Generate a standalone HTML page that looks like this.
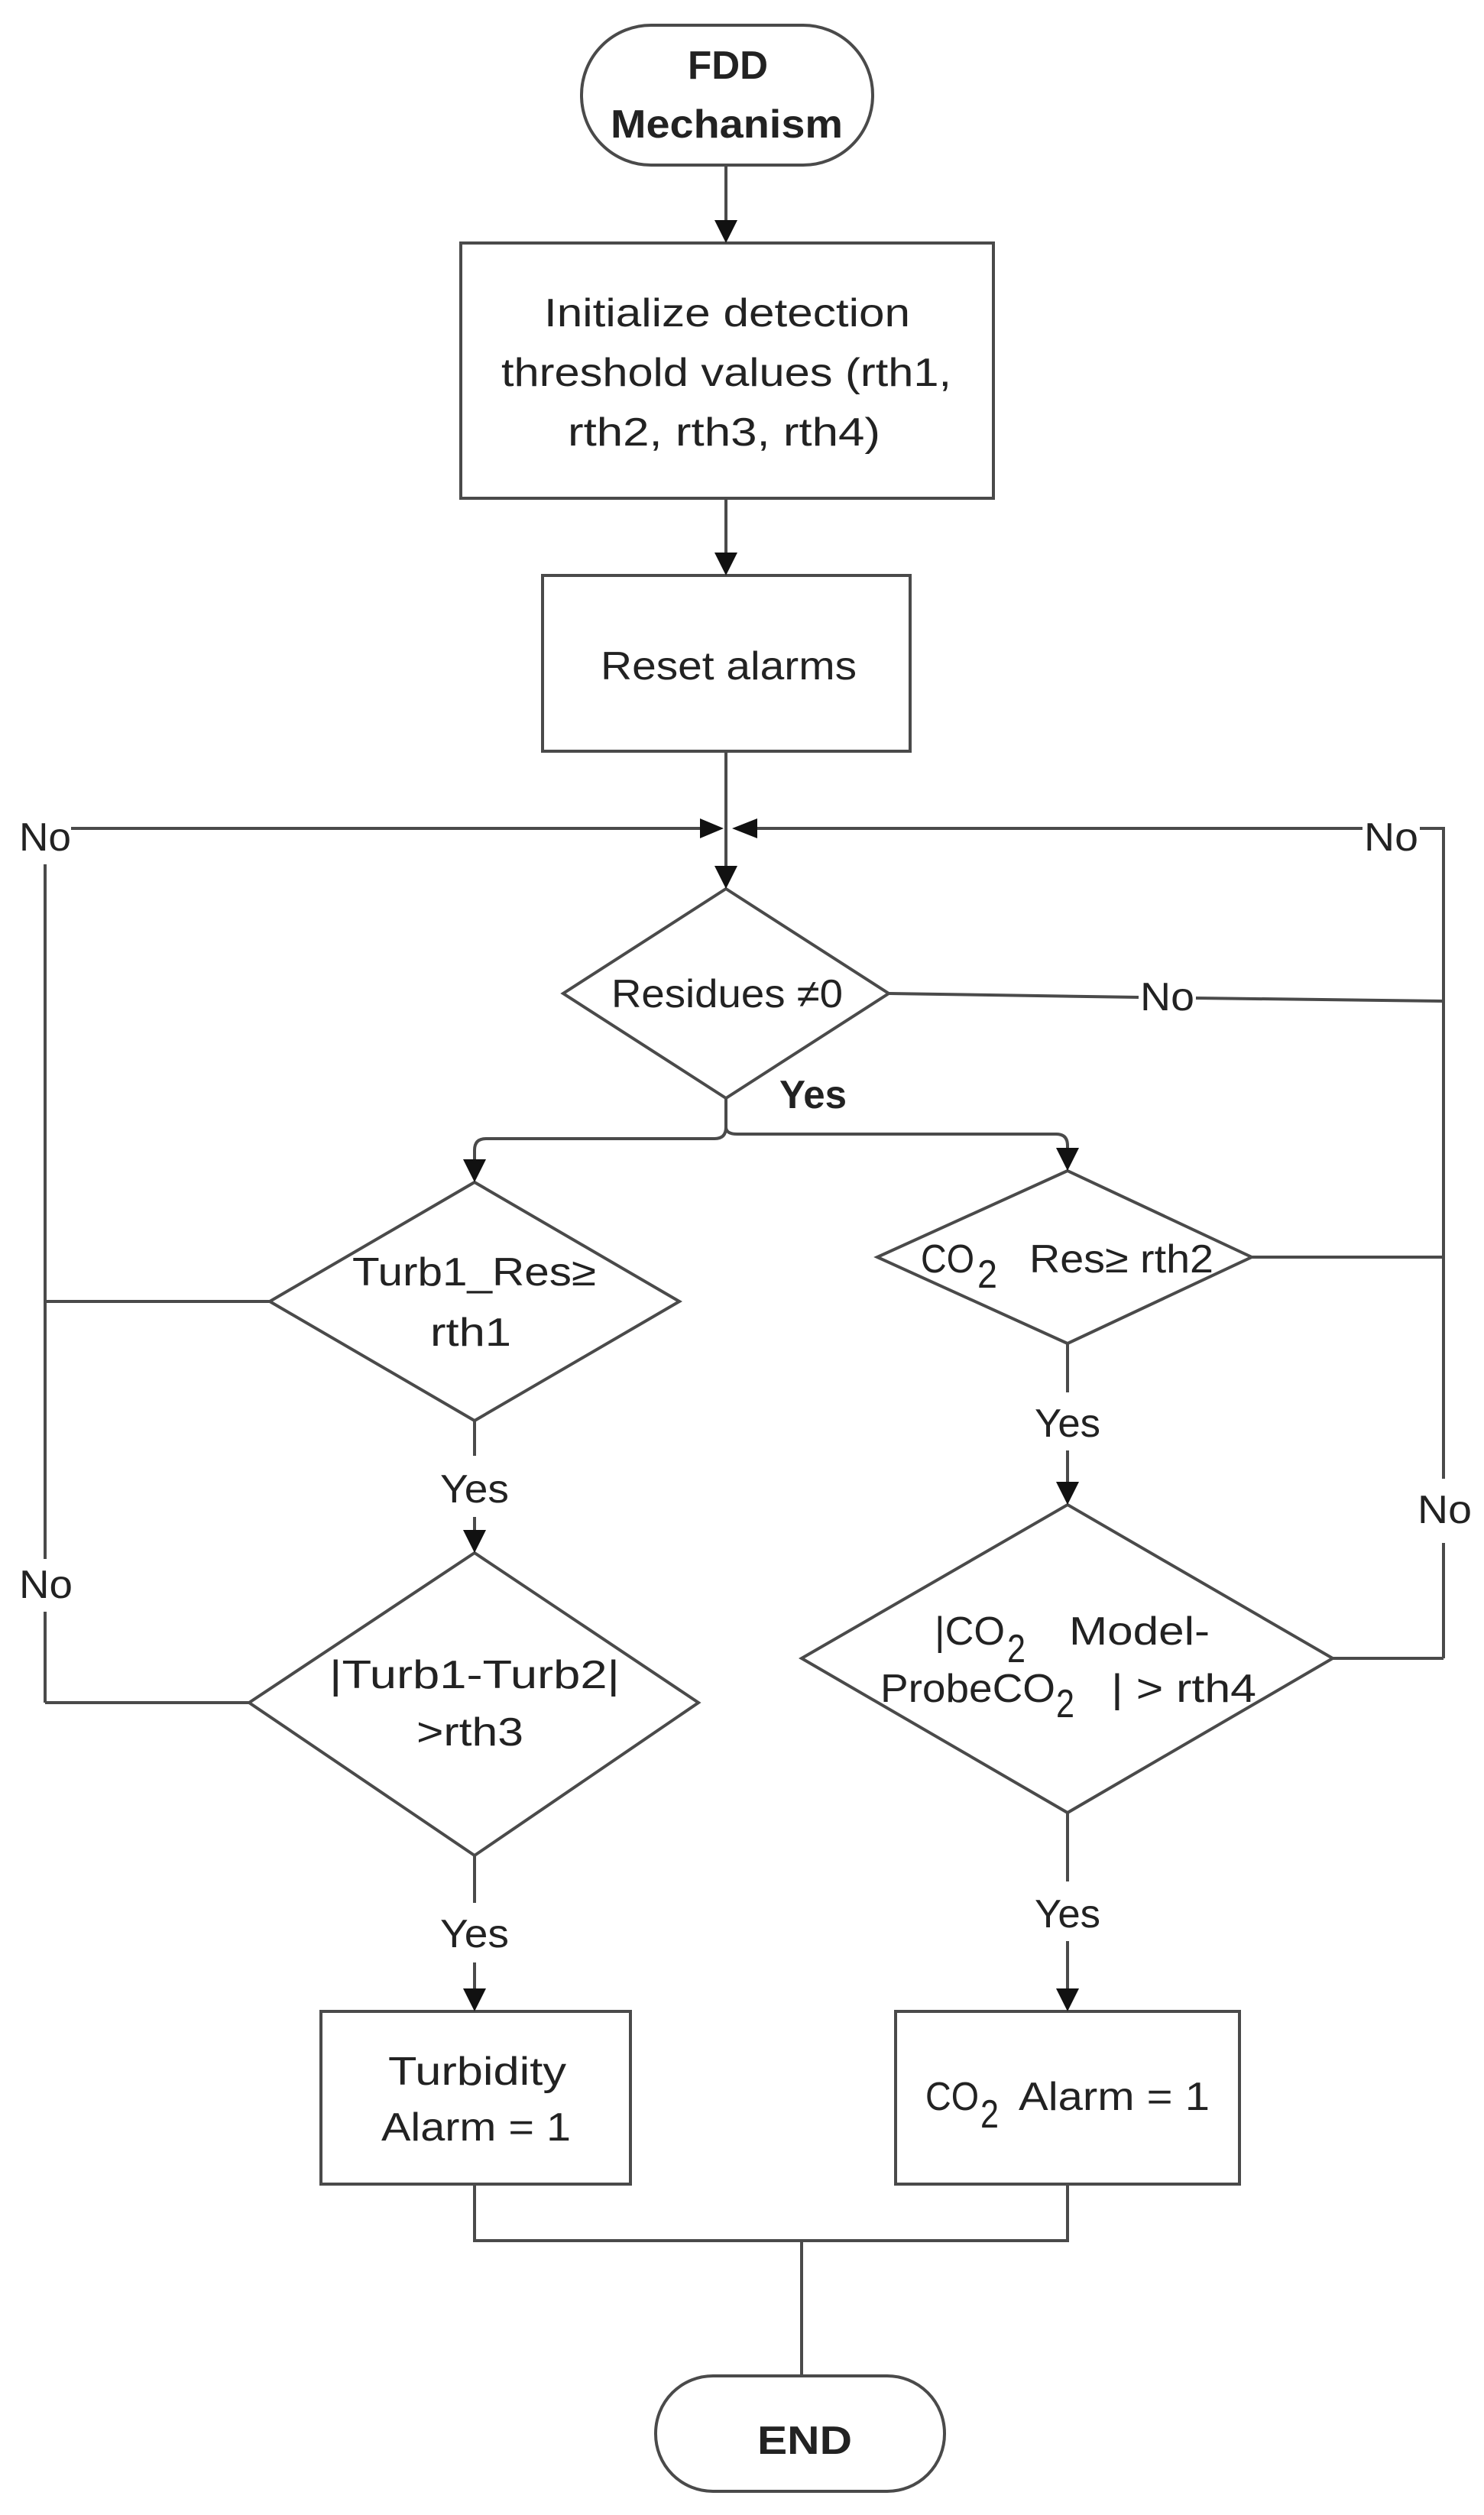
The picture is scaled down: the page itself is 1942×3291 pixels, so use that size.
<!DOCTYPE html>
<html><head><meta charset="utf-8"><style>
html,body{margin:0;padding:0;background:#fff;}
svg{display:block;}
text{font-family:"Liberation Sans",sans-serif;fill:#222;}
</style></head><body>
<svg width="1942" height="3291" viewBox="0 0 1942 3291" xmlns="http://www.w3.org/2000/svg">
<defs>
<marker id="a" markerWidth="10" markerHeight="10" refX="9" refY="5" orient="auto" markerUnits="userSpaceOnUse" viewBox="0 0 10 10">
</marker>
</defs>
<g fill="none" stroke="#4a4a4a" stroke-width="4">
<!-- start terminal -->
<rect x="761" y="33" width="381" height="183" rx="91" ry="91"/>
<!-- init box -->
<rect x="603" y="318" width="697" height="334"/>
<!-- reset -->
<rect x="710" y="753" width="481" height="230"/>
<!-- residues diamond -->
<polygon points="950,1163 1163,1300 950,1437 737,1300"/>
<!-- turb1 -->
<polygon points="621,1547 889,1703 621,1859 353,1703"/>
<!-- co2 res -->
<polygon points="1397,1532 1638,1645 1397,1758 1148,1645"/>
<!-- turb2 -->
<polygon points="621,2032 914,2228 621,2428 326,2228"/>
<!-- diamond4 -->
<polygon points="1397,1969 1744,2170 1397,2372 1049,2170"/>
<!-- alarms -->
<rect x="420" y="2632" width="405" height="226"/>
<rect x="1172" y="2632" width="450" height="226"/>
<!-- end -->
<rect x="858" y="3109" width="378" height="151" rx="75" ry="75"/>

<!-- connectors -->
<line x1="950" y1="216" x2="950" y2="290"/>
<line x1="950" y1="652" x2="950" y2="725"/>
<line x1="950" y1="983" x2="950" y2="1135"/>
<line x1="93" y1="1084" x2="920" y2="1084"/>
<line x1="985" y1="1084" x2="1783" y2="1084"/>
<polyline points="1858,1084 1889,1084 1889,1935"/>
<line x1="1889" y1="2019" x2="1889" y2="2170"/>
<line x1="59" y1="1131" x2="59" y2="2040"/>
<line x1="59" y1="2109" x2="59" y2="2228"/>
<line x1="353" y1="1703" x2="59" y2="1703"/>
<line x1="326" y1="2228" x2="59" y2="2228"/>
<line x1="1163" y1="1300" x2="1490" y2="1305"/>
<line x1="1565" y1="1306" x2="1889" y2="1310"/>
<line x1="1638" y1="1645" x2="1889" y2="1645"/>
<line x1="1744" y1="2170" x2="1889" y2="2170"/>
<!-- branch -->
<path d="M950,1437 L950,1475 Q950,1490 935,1490 L636,1490 Q621,1490 621,1505 L621,1520"/>
<path d="M950,1475 Q950,1484 965,1484 L1382,1484 Q1397,1484 1397,1499 L1397,1504"/>
<line x1="621" y1="1859" x2="621" y2="1905"/>
<line x1="621" y1="1985" x2="621" y2="2005"/>
<line x1="621" y1="2428" x2="621" y2="2490"/>
<line x1="621" y1="2568" x2="621" y2="2605"/>
<line x1="1397" y1="1758" x2="1397" y2="1822"/>
<line x1="1397" y1="1898" x2="1397" y2="1942"/>
<line x1="1397" y1="2372" x2="1397" y2="2462"/>
<line x1="1397" y1="2540" x2="1397" y2="2605"/>
<polyline points="621,2858 621,2932 1397,2932 1397,2858"/>
<line x1="1049" y1="2932" x2="1049" y2="3109"/>
</g>
<g fill="#111">
<polygon points="935,288 965,288 950,318"/>
<polygon points="935,723 965,723 950,753"/>
<polygon points="935,1133 965,1133 950,1163"/>
<polygon points="916,1071 916,1097 947,1084"/>
<polygon points="991,1071 991,1097 958,1084"/>
<polygon points="606,1517 636,1517 621,1547"/>
<polygon points="1382,1502 1412,1502 1397,1532"/>
<polygon points="606,2002 636,2002 621,2032"/>
<polygon points="606,2602 636,2602 621,2632"/>
<polygon points="1382,1939 1412,1939 1397,1969"/>
<polygon points="1382,2602 1412,2602 1397,2632"/>
</g>
<g font-size="52">
<text x="900" y="103" font-weight="bold" textLength="105" lengthAdjust="spacingAndGlyphs">FDD</text>
<text x="799" y="180" font-weight="bold" textLength="304" lengthAdjust="spacingAndGlyphs">Mechanism</text>
<text x="712" y="427" textLength="479" lengthAdjust="spacingAndGlyphs">Initialize detection</text>
<text x="656" y="505" textLength="589" lengthAdjust="spacingAndGlyphs">threshold values (rth1,</text>
<text x="743" y="583" textLength="409" lengthAdjust="spacingAndGlyphs">rth2, rth3, rth4)</text>
<text x="786" y="889" textLength="335" lengthAdjust="spacingAndGlyphs">Reset alarms</text>
<text x="800" y="1318" textLength="303" lengthAdjust="spacingAndGlyphs">Residues ≠0</text>
<text x="25" y="1113" textLength="68" lengthAdjust="spacingAndGlyphs">No</text>
<text x="1785" y="1113" textLength="71" lengthAdjust="spacingAndGlyphs">No</text>
<text x="1492" y="1322" textLength="71" lengthAdjust="spacingAndGlyphs">No</text>
<text x="1020" y="1450" font-weight="bold" textLength="88" lengthAdjust="spacingAndGlyphs">Yes</text>
<text x="461" y="1682" textLength="319" lengthAdjust="spacingAndGlyphs">Turb1_Res≥</text>
<text x="563" y="1761" textLength="106" lengthAdjust="spacingAndGlyphs">rth1</text>
<text x="1205" y="1665" textLength="70" lengthAdjust="spacingAndGlyphs">CO</text>
<text x="1279" y="1685" textLength="26" lengthAdjust="spacingAndGlyphs">2</text>
<text x="1347" y="1665" textLength="241" lengthAdjust="spacingAndGlyphs">Res≥ rth2</text>
<text x="576" y="1966" textLength="90" lengthAdjust="spacingAndGlyphs">Yes</text>
<text x="1354" y="1880" textLength="86" lengthAdjust="spacingAndGlyphs">Yes</text>
<text x="1855" y="1993" textLength="71" lengthAdjust="spacingAndGlyphs">No</text>
<text x="25" y="2091" textLength="70" lengthAdjust="spacingAndGlyphs">No</text>
<text x="431" y="2209" textLength="380" lengthAdjust="spacingAndGlyphs">|Turb1-Turb2|</text>
<text x="545" y="2284" textLength="140" lengthAdjust="spacingAndGlyphs">&gt;rth3</text>
<text x="1223" y="2152" textLength="92" lengthAdjust="spacingAndGlyphs">|CO</text>
<text x="1318" y="2175" textLength="24" lengthAdjust="spacingAndGlyphs">2</text>
<text x="1399" y="2152" textLength="184" lengthAdjust="spacingAndGlyphs">Model-</text>
<text x="1152" y="2227" textLength="229" lengthAdjust="spacingAndGlyphs">ProbeCO</text>
<text x="1382" y="2247" textLength="24" lengthAdjust="spacingAndGlyphs">2</text>
<text x="1454" y="2227" textLength="190" lengthAdjust="spacingAndGlyphs">| &gt; rth4</text>
<text x="576" y="2548" textLength="90" lengthAdjust="spacingAndGlyphs">Yes</text>
<text x="1354" y="2522" textLength="86" lengthAdjust="spacingAndGlyphs">Yes</text>
<text x="508" y="2728" textLength="233" lengthAdjust="spacingAndGlyphs">Turbidity</text>
<text x="499" y="2801" textLength="248" lengthAdjust="spacingAndGlyphs">Alarm = 1</text>
<text x="1211" y="2761" textLength="70" lengthAdjust="spacingAndGlyphs">CO</text>
<text x="1283" y="2784" textLength="24" lengthAdjust="spacingAndGlyphs">2</text>
<text x="1333" y="2761" textLength="250" lengthAdjust="spacingAndGlyphs">Alarm = 1</text>
<text x="991" y="3211" font-weight="bold" textLength="124" lengthAdjust="spacingAndGlyphs">END</text>
</g>
</svg>
</body></html>
